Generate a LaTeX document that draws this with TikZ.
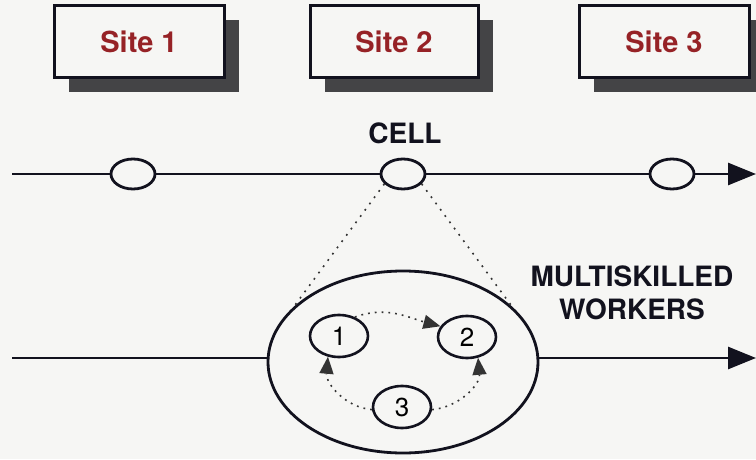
\documentclass[tikz,border=0pt]{standalone}
\usepackage{fontspec}
\setmainfont{TeX Gyre Heros}
\usetikzlibrary{arrows.meta,shapes.geometric,shadows}
\definecolor{bg}{RGB}{246,246,244}
\definecolor{sitered}{RGB}{150,34,38}
\definecolor{shadowgray}{RGB}{68,68,70}
\definecolor{ink}{RGB}{18,18,30}
\tikzset{
  sitebox/.style={draw=ink, line width=3pt, fill=bg, minimum width=170pt, minimum height=72pt,
    text=sitered, font=\fontsize{29}{32}\selectfont\bfseries, inner sep=0pt,
    general shadow={fill=shadowgray, shadow xshift=15pt, shadow yshift=-14pt}},
  smallell/.style={ellipse, draw=ink, line width=2.8pt, fill=bg, minimum width=44pt, minimum height=30pt, inner sep=0pt},
  bigell/.style={ellipse, draw=ink, line width=2.8pt, minimum width=270pt, minimum height=182pt, inner sep=0pt},
  worker/.style={ellipse, draw=ink, line width=2.6pt, minimum width=58pt, minimum height=42pt, inner sep=0pt,
    font=\fontsize{26}{28}\selectfont},
  flow/.style={draw=ink, line width=2.8pt},
  bigtip/.style={-{Triangle[length=28pt,width=22pt]}},
  dotline/.style={draw=black!80, line width=1.6pt, dash pattern=on 1.8pt off 6pt},
  dotarrow/.style={draw=black!80, line width=1.6pt, dash pattern=on 1.8pt off 5pt,
    -{Triangle[length=17pt,width=14pt]}},
  label/.style={font=\fontsize{28}{33}\selectfont\bfseries, text=ink, align=center, inner sep=0pt}
}
\begin{document}
\begin{tikzpicture}[x=1pt,y=1pt]
\fill[bg] (0,0) rectangle (756,459);
\useasboundingbox (0,0) rectangle (756,459);
% site boxes
\node[sitebox] (s1) at (139,417) {Site 1};
\node[sitebox, minimum width=168pt] (s2) at (394,417) {Site 2};
\node[sitebox] (s3) at (664,417) {Site 3};
% top line
\coordinate (t0) at (12,285);
\coordinate (tend) at (756,285);
\node[smallell] (e1) at (133,285) {};
\node[smallell] (e2) at (403,285) {};
\node[smallell] (e3) at (672,285) {};
\draw[flow] (t0) -- (e1);
\draw[flow] (e1) -- (e2);
\draw[flow] (e2) -- (e3);
\draw[flow, bigtip] (e3) -- (tend);
\node[label] (cell) at (405,326) {CELL};
% big cell
\node[bigell] (big) at (403,97) {};
\coordinate (b0) at (12,101);
\coordinate (bend) at (756,101);
\draw[flow] (b0) -- (b0 -| big.west);
\draw[flow, bigtip] (bend -| big.east) -- (bend);
\draw[dotline] (e2.208) -- (big.153);
\draw[dotline] (e2.332) -- (big.27);
\node[label] (mw) at (632,166) {MULTISKILLED\\WORKERS};
% workers
\node[worker] (c1) at (339,123) {1};
\node[worker] (c2) at (467,122) {2};
\node[worker] (c3) at (402,52) {3};
\draw[dotarrow] (c1.50) to[out=20,in=165] (c2.158);
\draw[dotarrow] (c3.-5) to[out=5,in=-85] (c2.-62);
\draw[dotarrow] (c3.185) to[out=175,in=-95] (c1.-118);
\end{tikzpicture}
\end{document}
